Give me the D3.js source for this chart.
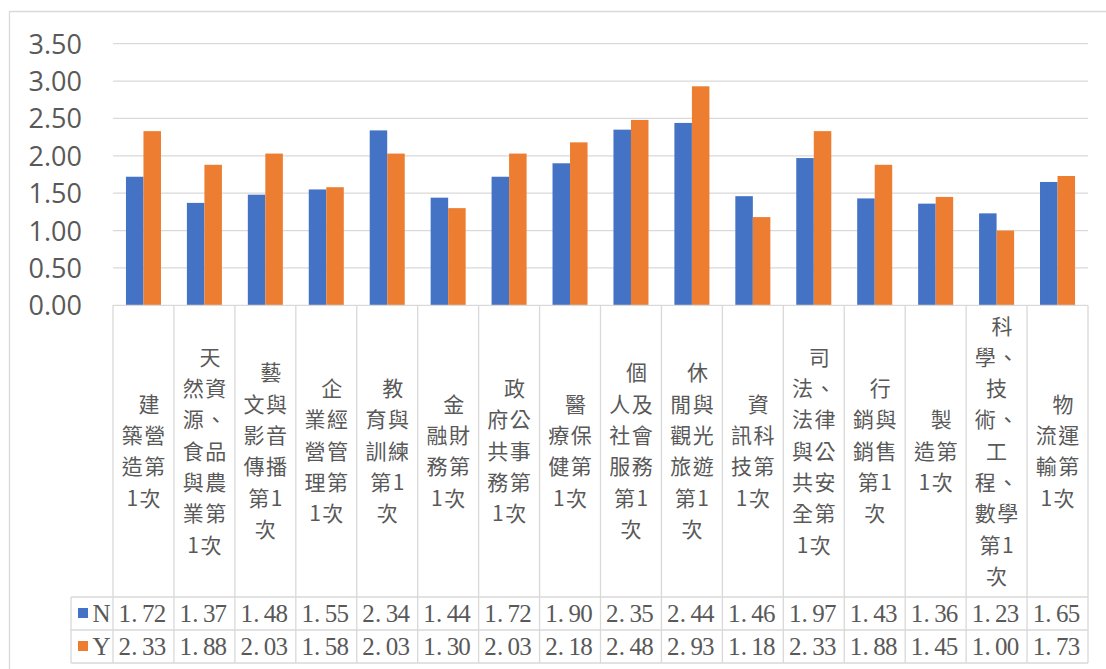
<!DOCTYPE html>
<html>
<head>
<meta charset="utf-8">
<script src="https://cdn.jsdelivr.net/npm/d3@7"></script>
<style>
  html, body { margin: 0; padding: 0; background: #ffffff; }
  svg { display: block; }
</style>
</head>
<body>
<svg id="chart" width="1106" height="669"></svg>
<script>
// ---- data ----
const categories = [
  "建築營造第1次", "天然資源、食品與農業第1次", "藝文與影音傳播第1次", "企業經營管理第1次",
  "教育與訓練第1次", "金融財務第1次", "政府公共事務第1次", "醫療保健第1次",
  "個人及社會服務第1次", "休閒與觀光旅遊第1次", "資訊科技第1次", "司法、法律與公共安全第1次",
  "行銷與銷售第1次", "製造第1次", "科學、技術、工程、數學第1次", "物流運輸第1次"
];
// wrapped lines as shown in the reference
const categoryLines = [
  ["建", "築營", "造第", "1次"],
  ["天", "然資", "源、", "食品", "與農", "業第", "1次"],
  ["藝", "文與", "影音", "傳播", "第1", "次"],
  ["企", "業經", "營管", "理第", "1次"],
  ["教", "育與", "訓練", "第1", "次"],
  ["金", "融財", "務第", "1次"],
  ["政", "府公", "共事", "務第", "1次"],
  ["醫", "療保", "健第", "1次"],
  ["個", "人及", "社會", "服務", "第1", "次"],
  ["休", "閒與", "觀光", "旅遊", "第1", "次"],
  ["資", "訊科", "技第", "1次"],
  ["司", "法、", "法律", "與公", "共安", "全第", "1次"],
  ["行", "銷與", "銷售", "第1", "次"],
  ["製", "造第", "1次"],
  ["科", "學、", "技", "術、", "工", "程、", "數學", "第1", "次"],
  ["物", "流運", "輸第", "1次"]
];
const seriesNames = ["N", "Y"];
const valuesN = [1.72, 1.37, 1.48, 1.55, 2.34, 1.44, 1.72, 1.90, 2.35, 2.44, 1.46, 1.97, 1.43, 1.36, 1.23, 1.65];
const valuesY = [2.33, 1.88, 2.03, 1.58, 2.03, 1.30, 2.03, 2.18, 2.48, 2.93, 1.18, 2.33, 1.88, 1.45, 1.00, 1.73];
const yTicks = [0, 0.5, 1.0, 1.5, 2.0, 2.5, 3.0, 3.5];
const seriesColors = ["#4472C4", "#ED7D31"];

// ---- layout ----
const svg = d3.select("#chart");
const plotLeft = 113, plotRight = 1088, plotTop = 43.7, plotBottom = 305.3;
const labelBottom = 597, rowH = 33, legendLeft = 71;
const gridColor = "#d9d9d9", textColor = "#595959";

const x = d3.scaleBand().domain(d3.range(categories.length)).range([plotLeft, plotRight]).paddingInner(0).paddingOuter(0);
const y = d3.scaleLinear().domain([0, 3.5]).range([plotBottom, plotTop]);
const xs = d3.scaleBand().domain(seriesNames).range([0, x.bandwidth()]).paddingInner(0).paddingOuter(0.74);

// outer chart border
svg.append("path")
  .attr("d", `M9.5,669 L9.5,11.5 L1106,11.5`)
  .attr("fill", "none").attr("stroke", gridColor).attr("stroke-width", 1.3);

// gridlines
svg.append("g").selectAll("line").data(yTicks.filter(d => d > 0)).join("line")
  .attr("x1", plotLeft).attr("x2", plotRight)
  .attr("y1", d => y(d)).attr("y2", d => y(d))
  .attr("stroke", gridColor).attr("stroke-width", 1.3);

// y axis labels
const yAxis = d3.axisLeft(y).tickValues(yTicks).tickFormat(d3.format(".2f")).tickSize(0).tickPadding(0);
const ya = svg.append("g").attr("transform", "translate(82,0)").call(yAxis);
ya.select(".domain").remove();
ya.selectAll("text").attr("fill", textColor)
  .style("font-family", "'Open Sans', 'Liberation Sans', sans-serif").style("font-size", "27px")
  .attr("dy", "0.35em");

// bars
const series = [valuesN, valuesY];
series.forEach((vals, si) => {
  svg.append("g").selectAll("rect").data(vals).join("rect")
    .attr("x", (d, i) => x(i) + xs(seriesNames[si]))
    .attr("width", xs.bandwidth())
    .attr("y", d => y(d))
    .attr("height", d => y(0) - y(d))
    .attr("fill", seriesColors[si]);
});

// table lines
const tableBottom = labelBottom + 2 * rowH;
const tl = svg.append("g").attr("stroke", gridColor).attr("stroke-width", 1.3);
tl.append("line").attr("x1", plotLeft).attr("x2", plotRight).attr("y1", plotBottom).attr("y2", plotBottom);
[labelBottom, labelBottom + rowH, tableBottom].forEach(yy => {
  tl.append("line").attr("x1", legendLeft).attr("x2", plotRight).attr("y1", yy).attr("y2", yy);
});
tl.append("line").attr("x1", legendLeft).attr("x2", legendLeft).attr("y1", labelBottom).attr("y2", tableBottom);
d3.range(categories.length + 1).forEach(i => {
  const xx = i < categories.length ? x(i) : plotRight;
  tl.append("line").attr("x1", xx).attr("x2", xx).attr("y1", plotBottom).attr("y2", tableBottom);
});

// category labels
const lineH = 31.3;
const labG = svg.append("g")
  .style("font-family", "'Noto Sans CJK TC', 'Noto Sans CJK SC', sans-serif")
  .style("font-size", "21px").style("letter-spacing", "1.5px").attr("fill", textColor);
categoryLines.forEach((lines, i) => {
  const cx = x(i) + x.bandwidth() / 2 + 0.75;
  const midY = (plotBottom + labelBottom) / 2;
  const startY = midY - (lines.length - 1) * lineH / 2;
  const t = labG.append("text").attr("text-anchor", "middle");
  lines.forEach((ln, j) => {
    t.append("tspan")
      .attr("x", cx + (j === 0 ? 5.5 : 0))
      .attr("y", startY + j * lineH)
      .attr("dy", "0.36em")
      .text(ln);
  });
});

// data table values (monospaced cell-like layout)
const pitch = 11.7;
const valG = svg.append("g")
  .style("font-family", "'Liberation Serif', 'DejaVu Serif', serif")
  .style("font-size", "25px").attr("fill", textColor);
series.forEach((vals, si) => {
  const cy = labelBottom + rowH * si + rowH / 2;
  vals.forEach((v, i) => {
    const s = d3.format(".2f")(v);
    const cx = x(i) + x.bandwidth() / 2 - 1.5;
    const x0 = cx - (s.length * pitch) / 2;
    const xsList = s.split("").map((c, k) => x0 + k * pitch + (c === "." ? 1 : 0));
    valG.append("text")
      .attr("x", xsList.join(" "))
      .attr("y", cy)
      .attr("dy", "0.34em")
      .text(s);
  });
  // legend key
  svg.append("rect").attr("x", 78).attr("y", cy - 5.5).attr("width", 10).attr("height", 10).attr("fill", seriesColors[si]);
  valG.append("text").attr("x", 92.5).attr("y", cy).attr("dy", "0.34em").text(seriesNames[si]);
});
</script>
</body>
</html>
